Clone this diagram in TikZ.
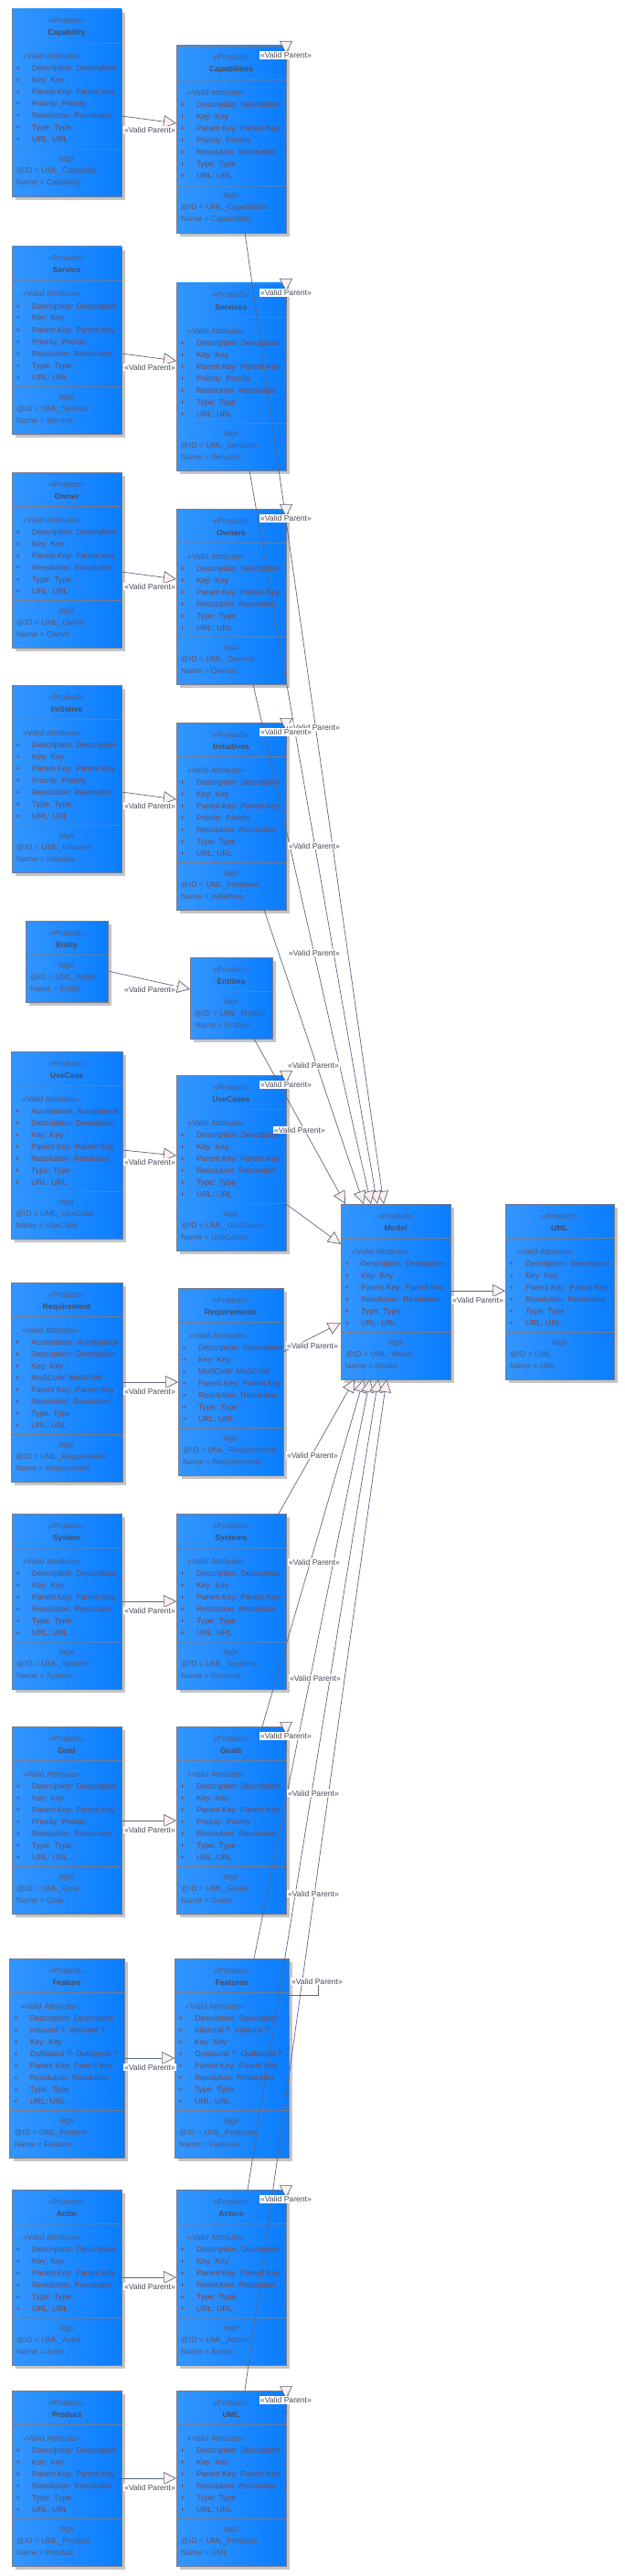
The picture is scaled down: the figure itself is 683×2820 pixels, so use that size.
\documentclass[tikz,border=0pt]{standalone}
\usepackage{fontspec}
\setmainfont{Liberation Sans}
\usetikzlibrary{calc,arrows.meta}
\definecolor{boxL}{HTML}{3396FF}
\definecolor{boxR}{HTML}{0A7DFF}
\definecolor{bord}{HTML}{7A7A8A}
\definecolor{shad}{HTML}{C4C4C4}
\definecolor{attrc}{HTML}{7B4545}
\definecolor{namec}{HTML}{4A4A5C}
\definecolor{stc}{HTML}{585872}
\definecolor{linec}{HTML}{5E6682}
\definecolor{tipfill}{HTML}{FBEFEA}
\definecolor{labc}{HTML}{4A4A5A}
\tikzset{
  classbody/.style={draw=bord, line width=0.8pt, left color=boxL, right color=boxR, inner sep=0pt, outer sep=0pt, rectangle},
  sepline/.style={draw=bord, line width=0.8pt},
  txt/.style={inner sep=0pt, font=\fontsize{8.6}{10}\selectfont},
  vp/.style={draw=linec, line width=0.7pt, -{Triangle[length=14pt,width=14pt,fill=tipfill]}},
  plainline/.style={draw=linec, line width=0.7pt},
  vplabel/.style={fill=white, inner sep=1.2pt, text=labc, font=\fontsize{8.6}{10}\selectfont}
}
\def\LsevenP{Description: Description, Key: Key, Parent Key: Parent Key, Priority: Priority, Resolution: Resolution, Type: Type, URL: URL}
\def\Lsix{Description: Description, Key: Key, Parent Key: Parent Key, Resolution: Resolution, Type: Type, URL: URL}
\def\LuseCase{Acceptance: Acceptance, Description: Description, Key: Key, Parent Key: Parent Key, Resolution: Resolution, Type: Type, URL: URL}
\def\Lreq{Acceptance: Acceptance, Description: Description, Key: Key, MoSCoW: MoSCoW, Parent Key: Parent Key, Resolution: Resolution, Type: Type, URL: URL}
\def\Lreqs{Description: Description, Key: Key, MoSCoW: MoSCoW, Parent Key: Parent Key, Resolution: Resolution, Type: Type, URL: URL}
\def\Lfeat{Description: Description, Inbound ?: Inbound ?, Key: Key, Outbound ?: Outbound ?, Parent Key: Parent Key, Resolution: Resolution, Type: Type, URL: URL}
\def\Lnone{}
% #1 name, #2 x, #3 y(top), #4 width, #5 number of attributes, #6 title, #7 attribute list macro, #8 id
\newcommand{\classbox}[8]{%
  \pgfmathsetmacro{\attrh}{ifthenelse(#5>0, 25+13*#5, 0)}%
  \pgfmathsetmacro{\hh}{37+\attrh+52}%
  \fill[shad] (#2+4,#3+4) rectangle ++(#4,\hh);
  \node[classbody, minimum width=#4pt, minimum height=\hh pt, anchor=north west] (#1) at (#2,#3) {};
  \node[txt, text=stc, anchor=base] at (#2+#4/2, #3+16) {«Product»};
  \node[txt, text=namec, anchor=base, font=\fontsize{8.6}{10}\selectfont\bfseries] at (#2+#4/2, #3+29) {#6};
  \draw[sepline] (#2,#3+37) -- ++(#4,0);
  \ifnum#5>0
    \node[txt, text=stc, anchor=base west] at (#2+12,#3+55) {«Valid Attribute»};
    \foreach[count=\i] \a in #7 {
      \node[txt, text=attrc, anchor=base] at (#2+7,#3+55+13*\i) {+};
      \node[txt, text=attrc, anchor=base west] at (#2+22,#3+55+13*\i) {\a};
    }
    \draw[sepline] (#2,#3+37+\attrh) -- ++(#4,0);
  \fi
  \node[txt, text=stc, anchor=base, font=\fontsize{8.6}{10}\selectfont\itshape] at (#2+#4/2, #3+37+\attrh+14) {tags};
  \node[txt, text=stc, anchor=base west] at (#2+5, #3+37+\attrh+27) {@ID = #8};
  \node[txt, text=stc, anchor=base west] at (#2+5, #3+37+\attrh+40) {Name = #6};
}
\begin{document}
\begin{tikzpicture}[x=1pt,y=-1pt]
\fill[white] (0,0) rectangle (683,2820);
\useasboundingbox (0,0) rectangle (683,2820);

% left column
\classbox{capL}{13}{10}{120}{7}{Capability}{\LsevenP}{UML\_Capability}
\classbox{serL}{13}{270}{120}{7}{Service}{\LsevenP}{UML\_Service}
\classbox{ownL}{13}{517}{120}{6}{Owner}{\Lsix}{UML\_Owner}
\classbox{iniL}{13}{750}{120}{7}{Initiative}{\LsevenP}{UML\_Initiative}
\classbox{entL}{28}{1008}{90}{0}{Entity}{\Lnone}{UML\_Entity}
\classbox{ucL}{12}{1151}{122}{7}{UseCase}{\LuseCase}{UML\_UseCase}
\classbox{reqL}{12}{1404}{122}{8}{Requirement}{\Lreq}{UML\_Requirement}
\classbox{sysL}{13}{1657}{120}{6}{System}{\Lsix}{UML\_System}
\classbox{goalL}{13}{1890}{120}{7}{Goal}{\LsevenP}{UML\_Goal}
\classbox{featL}{10.5}{2144}{125.5}{8}{Feature}{\Lfeat}{UML\_Feature}
\classbox{actL}{13}{2397}{120}{6}{Actor}{\Lsix}{UML\_Actor}
\classbox{prodL}{13}{2617}{120}{6}{Product}{\Lsix}{UML\_Product}

% middle column
\classbox{capM}{193}{50}{120}{7}{Capabilities}{\LsevenP}{UML\_Capabilities}
\classbox{serM}{193}{310}{120}{7}{Services}{\LsevenP}{UML\_Services}
\classbox{ownM}{193}{557}{120}{6}{Owners}{\Lsix}{UML\_Owners}
\classbox{iniM}{193}{791}{120}{7}{Initiatives}{\LsevenP}{UML\_Initiatives}
\classbox{entM}{208}{1048}{90}{0}{Entities}{\Lnone}{UML\_Entities}
\classbox{ucM}{193}{1177}{120}{6}{UseCases}{\Lsix}{UML\_UseCases}
\classbox{reqM}{195}{1410}{115}{7}{Requirements}{\Lreqs}{UML\_Requirements}
\classbox{sysM}{193}{1657}{120}{6}{Systems}{\Lsix}{UML\_Systems}
\classbox{goalM}{193}{1890}{120}{7}{Goals}{\LsevenP}{UML\_Goals}
\classbox{featM}{191}{2144}{125}{8}{Features}{\Lfeat}{UML\_Features}
\classbox{actM}{193}{2397}{120}{6}{Actors}{\Lsix}{UML\_Actors}
\classbox{umlM}{193}{2617}{120}{6}{UML}{\Lsix}{UML\_Products}

% right
\classbox{model}{373}{1318}{120}{6}{Model}{\Lsix}{UML\_Model}
\classbox{uml}{553}{1318}{119}{6}{UML}{\Lsix}{UML}

% leaf -> collection
\draw[vp] ($(capL.north east)+(0,117)$) -- ($(capM.north west)+(0,85)$);
\draw[vp] ($(serL.north east)+(0,117)$) -- ($(serM.north west)+(0,85)$);
\draw[vp] ($(ownL.north east)+(0,109)$) -- ($(ownM.north west)+(0,77)$);
\draw[vp] ($(iniL.north east)+(0,117)$) -- ($(iniM.north west)+(0,84)$);
\draw[vp] ($(entL.north east)+(0,55)$) -- ($(entM.north west)+(0,35)$);
\draw[vp] ($(ucL.north east)+(0,108)$) -- ($(ucM.north west)+(0,88)$);
\draw[vp] ($(reqL.north east)+(0,109)$) -- ($(reqM.north west)+(0,103)$);
\draw[vp] ($(sysL.north east)+(0,96)$) -- ($(sysM.north west)+(0,96)$);
\draw[vp] ($(goalL.north east)+(0,103)$) -- ($(goalM.north west)+(0,103)$);
\draw[vp] ($(featL.north east)+(0,109)$) -- ($(featM.north west)+(0,109)$);
\draw[vp] ($(actL.north east)+(0,96)$) -- ($(actM.north west)+(0,96)$);
\draw[vp] ($(prodL.north east)+(0,96)$) -- ($(umlM.north west)+(0,96)$);

% collection -> Model
\draw[vp] ($(capM.south west)+(75,0)$) -- ($(model.north west)+(47,0)$);
\draw[vp] ($(serM.south west)+(80,0)$) -- ($(model.north west)+(40,0)$);
\draw[vp] ($(ownM.south west)+(84,0)$) -- ($(model.north west)+(33,0)$);
\draw[vp] ($(iniM.south west)+(96,0)$) -- ($(model.north west)+(25,0)$);
\draw[vp] ($(entM.south west)+(70,0)$) -- ($(model.north west)+(5,0)$);
\draw[vp] ($(ucM.north east)+(0,141)$) -- ($(model.north west)+(0,44)$);
\draw[vp] ($(reqM.north east)+(0,70)$) -- ($(model.north west)+(0,130)$);
\draw[vp] ($(sysM.north west)+(112,0)$) -- ($(model.south west)+(15,0)$);
\draw[vp] ($(goalM.north west)+(94,0)$) -- ($(model.south west)+(25,0)$);
\draw[vp] ($(featM.north west)+(87,0)$) -- ($(model.south west)+(32,0)$);
\draw[vp] ($(actM.north west)+(78,0)$) -- ($(model.south west)+(41,0)$);
\draw[vp] ($(umlM.north west)+(75,0)$) -- ($(model.south west)+(50,0)$);

% Model -> UML
\draw[vp] ($(model.north east)+(0,95)$) -- ($(uml.north west)+(0,95)$);

% self loops
\foreach \b in {capM,serM,ownM,iniM,ucM,goalM,actM,umlM} {
  \draw[plainline] ($(\b.north east)+(0,25)$) -- ($(\b.north east)+(0,9)$);
  \draw[vp] ($(\b.north east)+(0,-5)$) -- ($(\b.north east)+(0,9)$);
}
\draw[plainline] ($(featM.north east)+(0,40)$) -| ($(featM.north east)+(32,28)$);

% labels leaf -> collection
\foreach \yy in {142,402,642,882,1083,1272,1523,1763,2003,2263,2503,2723} {
  \node[vplabel] at (164,\yy) {«Valid Parent»};
}
\node[vplabel] (lmu) at (523,1423) {«Valid Parent»};

% labels collection -> Model
\foreach \xx/\yy in {344/796,344/926,344/1043,343/1166,328/1237,342/1473,342/1593,344/1710,345/1837,343/1963,343/2073} {
  \node[vplabel] at (\xx,\yy) {«Valid Parent»};
}

% self loop labels
\foreach \b in {capM,serM,ownM,iniM,ucM,goalM,actM,umlM} {
  \node[vplabel] at ($(\b.north east)+(0,10.5)$) {«Valid Parent»};
}
\node[vplabel] at ($(featM.north east)+(31,25)$) {«Valid Parent»};
\end{tikzpicture}
\end{document}
